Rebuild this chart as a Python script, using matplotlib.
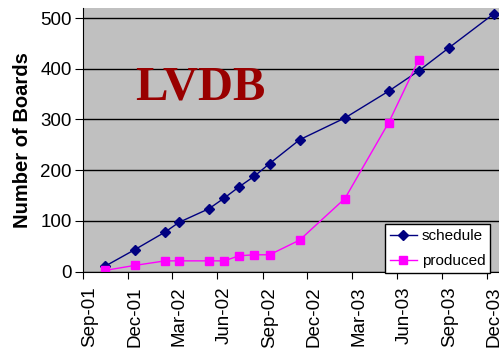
import datetime
import matplotlib
matplotlib.use("Agg")
import matplotlib.pyplot as plt
import matplotlib.dates as mdates
import matplotlib.transforms as mtransforms

# data
dates = [datetime.date(2001, 10, 15), datetime.date(2001, 12, 15), datetime.date(2002, 2, 15),
         datetime.date(2002, 3, 15), datetime.date(2002, 5, 15), datetime.date(2002, 6, 15),
         datetime.date(2002, 7, 15), datetime.date(2002, 8, 15), datetime.date(2002, 9, 15),
         datetime.date(2002, 11, 15), datetime.date(2003, 2, 15), datetime.date(2003, 5, 15),
         datetime.date(2003, 7, 15), datetime.date(2003, 9, 15), datetime.date(2003, 12, 15)]
schedule = [10, 43, 78, 97, 124, 145, 167, 188, 213, 260, 303, 356, 396, 442, 509]
produced = [2, 12, 21, 21, 21, 21, 31, 33, 33, 62, 144, 294, 418]

plt.rcParams['font.family'] = ['Liberation Sans', 'DejaVu Sans']

fig = plt.figure(figsize=(4.99, 3.56), dpi=100)
W, H = 499, 356
ax = fig.add_axes([83 / W, 1 - 271.5 / H, (499 - 83) / W, (271.5 - 8) / H])
ax.set_facecolor('#C0C0C0')

ax.plot(dates, schedule, color='#000080', lw=1, marker='D', ms=5, label='schedule')
ax.plot(dates[:len(produced)], produced, color='#FF00FF', lw=1, marker='s', ms=6, label='produced')

ax.set_xlim(datetime.date(2001, 9, 1), datetime.date(2003, 12, 25))
ax.set_ylim(0, 520)
ax.set_yticks([0, 100, 200, 300, 400, 500])
ax.yaxis.grid(True, color='black', lw=1)
ax.set_axisbelow(True)

ax.xaxis.set_major_locator(mdates.MonthLocator(bymonth=[3, 6, 9, 12]))
ax.xaxis.set_major_formatter(mdates.DateFormatter('%b-%y'))
ax.tick_params(axis='x', direction='out', length=5, labelsize=13.5, rotation=90, pad=6)
ax.tick_params(axis='y', direction='out', length=6, labelsize=13.5, pad=2)
offset = mtransforms.ScaledTranslation(7 / 100, 0, fig.dpi_scale_trans)
for lab in ax.get_xticklabels():
    lab.set_transform(lab.get_transform() + offset)

for s in ['top', 'right']:
    ax.spines[s].set_visible(False)

ax.set_ylabel('Number of Boards', fontsize=14.5, fontweight='bold', labelpad=6)

ax.text(0.125, 0.70, 'LVDB', transform=ax.transAxes, fontsize=35, fontweight='bold',
        family='Liberation Serif', color='#990000', va='center', ha='left')

leg = ax.legend(loc='lower right', bbox_to_anchor=(0.978, -0.006), fontsize=11,
                frameon=True, fancybox=False, framealpha=1, edgecolor='black',
                handlelength=1.8, borderpad=0.3, labelspacing=0.75, handletextpad=0.3,
                borderaxespad=0)
leg.get_frame().set_linewidth(1)

fig.savefig('out.png', dpi=100)
